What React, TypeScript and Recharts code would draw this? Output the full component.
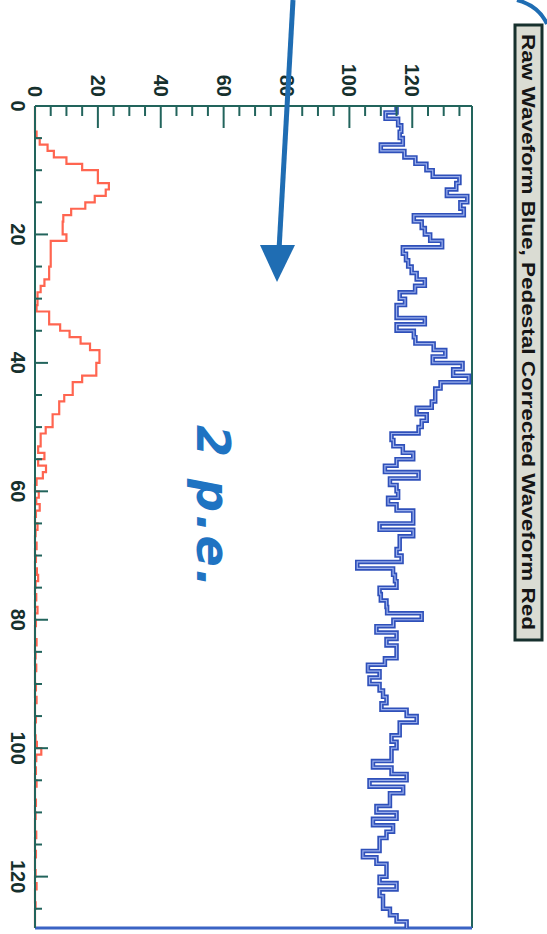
import React from "react";
import { LineChart, Line, XAxis, YAxis, ReferenceLine } from "recharts";

// ADC counts per sample (raw = blue, pedestal corrected = red)
const blueWave = [
  115, 111.5, 115.5, 116.5, 116, 117, 110, 117.5, 121, 124.5,
  126.5, 135, 134, 131, 137.5, 135.3, 136.4, 120.5, 123, 124,
  125.7, 129.5, 117, 118, 118.7, 119.8, 121.4, 124, 120.9, 116,
  117.7, 115, 115, 124, 115, 120.5, 121, 126.8, 130.5, 126.5,
  136, 133, 138, 129, 127.3, 127.3, 126.2, 121.4, 124.6, 123,
  122, 113.4, 114, 117, 120.3, 115, 111.3, 122, 112.9, 115,
  115.5, 112.3, 115, 120.3, 120.3, 109.6, 120.3, 116, 116, 115,
  116.6, 102.5, 113.9, 114.5, 115, 109.6, 110, 111.8, 112, 123,
  114, 108.6, 115, 111.8, 115, 115, 111.3, 105.9, 109.6, 106.4,
  109.6, 110.7, 111.8, 110.2, 118.2, 121.4, 116, 116, 113.4, 115,
  113.4, 113.4, 107.5, 113.4, 118.2, 106.4, 117.1, 112.9, 112.9, 108.6,
  115, 107.5, 113.9, 111.8, 109.6, 109.6, 104.3, 108.6, 111.8, 111.8,
  109.6, 115, 109.6, 110.7, 110.7, 112.9, 115, 118.2,
];

const redWave = [
  0, 0, 0, 0, 0.5, 1.5, 4, 6, 10, 15,
  20, 20, 23.5, 22.5, 19, 16, 11.5, 9, 8.8, 8.8,
  10, 5, 5, 5, 5, 4.5, 4.5, 3, 1.8, 0.8,
  0.8, 0.5, 4.5, 4.5, 8, 11, 14.5, 17.5, 20.5, 20.5,
  19.5, 19.5, 15, 12, 12, 9.3, 7.7, 7.7, 5.6, 5.6,
  3.4, 1.8, 1.8, 1, 3, 1, 3.5, 2.5, 0.5, 0,
  1.2, 0.4, 1.5, 0.3, 0, 0.8, 0.2, 0, 0.5, 0,
  0.3, 0, 0.6, 1, 0.2, 0, 0.4, 0, 0.8, 0,
  0.3, 0, 0, 0.5, 0, 0.2, 0, 0.4, 0, 0,
  0.3, 0, 0.5, 0, 0, 0.3, 0, 0, 0.2, 0.6,
  2, 0.4, 0, 0.3, 0, 0.5, 0, 0, 0.3, 0,
  0.2, 0, 0, 0.4, 0, 0, 0.3, 0, 0, 0.2,
  0, 0.5, 0, 0, 0.2, 0, 0, 0,
];

const sampleTicks = [0, 5, 10, 15, 20, 25, 30, 35, 40, 45, 50, 55, 60, 65, 70, 75, 80, 85, 90, 95, 100, 105, 110, 115, 120, 125];
const sampleLabels = [0, 20, 40, 60, 80, 100, 120];
const valueTicks = [0, 5, 10, 15, 20, 25, 30, 35, 40, 45, 50, 55, 60, 65, 70, 75, 80, 85, 90, 95, 100, 105, 110, 115, 120, 125, 130, 135];
const valueLabels = [0, 20, 40, 60, 80, 100, 120];

const title = "Raw Waveform Blue, Pedestal Corrected Waveform Red";

// the chart is laid out normally and then turned a quarter turn clockwise
const W = 934;
const H = 547;
const AXIS = "#22645c";
const INK = "#16302d";

const chartData = blueWave.map((b, i) => ({ t: i, blue: b, red: redWave[i] }));
chartData.push({ t: blueWave.length, blue: blueWave[blueWave.length - 1], red: redWave[redWave.length - 1] });

const ValueTick = (props: any) => {
  const { x, y, payload } = props;
  const major = valueLabels.includes(payload.value);
  return (
    <g>
      <line x1={x} y1={y} x2={x + (major ? 22 : 10)} y2={y} stroke={AXIS} strokeWidth={2} />
      {major && (
        <text x={x - 9} y={y + 7} textAnchor="end" fontSize={20} fontWeight="bold" fill={INK}
          fontFamily="'Liberation Sans', Arial, sans-serif">
          {payload.value}
        </text>
      )}
    </g>
  );
};

const SampleTick = (props: any) => {
  const { x, y, payload } = props;
  const major = sampleLabels.includes(payload.value);
  return (
    <g>
      <line x1={x} y1={y} x2={x} y2={y - (major ? 13 : 7)} stroke={AXIS} strokeWidth={2} />
      {major && (
        <text x={x} y={y + 24} textAnchor="middle" fontSize={20} fontWeight="bold" fill={INK}
          fontFamily="'Liberation Sans', Arial, sans-serif">
          {payload.value}
        </text>
      )}
    </g>
  );
};

export default function App() {
  return (
    <div style={{ position: "absolute", left: 0, top: 0, width: H, height: W, overflow: "hidden", background: "#fff" }}>
      <div
        style={{
          position: "absolute",
          left: 0,
          top: 0,
          width: W,
          height: H,
          transformOrigin: "0 0",
          transform: `translateX(${H}px) rotate(90deg)`,
        }}
      >
        <LineChart width={W} height={H} data={chartData} margin={{ top: 75, right: 6, bottom: 5, left: 46 }}>
          <XAxis
            type="number"
            dataKey="t"
            domain={[0, 128]}
            ticks={sampleTicks}
            interval={0}
            height={30}
            tickSize={0}
            tickMargin={0}
            tick={<SampleTick />}
            axisLine={{ stroke: AXIS, strokeWidth: 2 }}
            tickLine={false}
          />
          <YAxis
            type="number"
            domain={[0, 139]}
            ticks={valueTicks}
            interval={0}
            width={60}
            tickSize={0}
            tickMargin={0}
            tick={<ValueTick />}
            axisLine={{ stroke: AXIS, strokeWidth: 2 }}
            tickLine={false}
          />
          <ReferenceLine y={139} stroke={AXIS} strokeWidth={2} />
          <ReferenceLine x={128} stroke="#3a63c4" strokeWidth={3} />
          <Line type="stepAfter" dataKey="red" stroke="#ff6550" strokeWidth={2.2} dot={false} isAnimationActive={false} />
          <Line type="stepAfter" dataKey="blue" stroke="#2f50ba" strokeWidth={4.5} dot={false} isAnimationActive={false} />
          <Line type="stepAfter" dataKey="blue" stroke="#9aafec" strokeWidth={1.2} dot={false} isAnimationActive={false} />
        </LineChart>

        <svg width={W} height={H} style={{ position: "absolute", left: 0, top: 0, pointerEvents: "none" }}>
          {/* title pave */}
          <rect x={25} y={5} width={615} height={27} fill="#dadcd3" stroke={INK} strokeWidth={3} />
          <text x={332} y={25} textAnchor="middle" fontSize={19} fontWeight="bold" fill="#151515"
            fontFamily="'Liberation Sans', Arial, sans-serif" textLength={596} lengthAdjust="spacingAndGlyphs">
            {title}
          </text>

          {/* hand drawn notes on the scan */}
          <line x1={0} y1={254} x2={250} y2={268} stroke="#1f6db3" strokeWidth={5} />
          <polygon points="282,270 245,252 245,287" fill="#1f6db3" />
          <path d="M 0 30 Q 6 8 24 0" fill="none" stroke="#1f6db3" strokeWidth={4} />
          <text x={425} y={350} fontSize={46} fontStyle="italic" fontWeight="bold" fill="#1f73c2"
            fontFamily="'DejaVu Sans', sans-serif" letterSpacing={3}>
            2 p.e.
          </text>
        </svg>
      </div>
    </div>
  );
}
